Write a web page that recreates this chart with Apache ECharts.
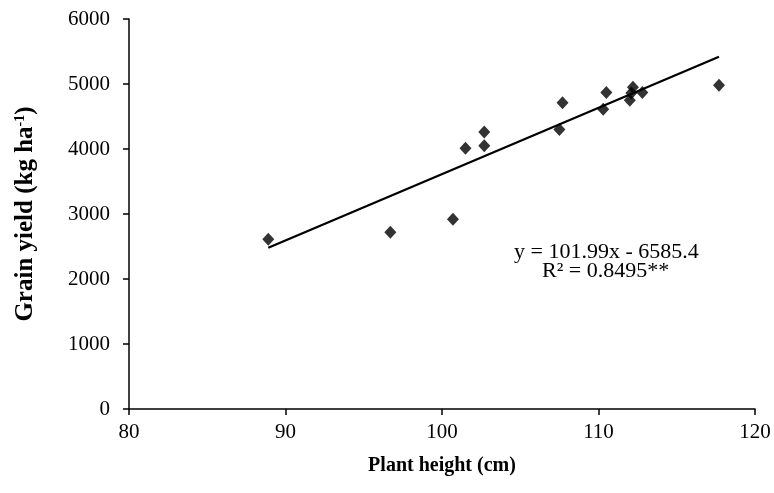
<!DOCTYPE html>
<html>
<head>
<meta charset="utf-8">
<script src="https://cdn.jsdelivr.net/npm/echarts@6/dist/echarts.min.js"></script>
<style>html,body{margin:0;padding:0;background:#fff;}#c{width:774px;height:493px;}</style>
</head>
<body>
<div id="c"></div>
<script>
// Data
const plantHeight = [88.9, 96.7, 100.7, 101.5, 102.7, 102.7, 107.5, 107.7, 110.3, 110.5, 112.0, 112.2, 112.1, 112.8, 117.7];
const grainYield  = [2610, 2720, 2920, 4010, 4260, 4050, 4300, 4710, 4610, 4870, 4750, 4950, 4860, 4870, 4980];
const slope = 101.99;
const intercept = -6585.4;
const trendX = [88.9, 117.7];
const xTicks = [80, 90, 100, 110, 120];
const yTicks = [0, 1000, 2000, 3000, 4000, 5000, 6000];
const equationText = 'y = 101.99x - 6585.4';
const r2Text = 'R\u00B2 = 0.8495**';

const points = plantHeight.map((x, i) => [x, grainYield[i]]);
const trend = trendX.map(x => [x, slope * x + intercept]);

const serif = '"Liberation Serif", "DejaVu Serif", serif';
const chart = echarts.init(document.getElementById('c'), null, {renderer: 'canvas'});
chart.setOption({
  animation: false,
  backgroundColor: '#fff',
  grid: {left: 129, right: 19, top: 19, bottom: 84},
  xAxis: {
    type: 'value', min: xTicks[0], max: xTicks[xTicks.length - 1], interval: 10,
    name: 'Plant height (cm)', nameLocation: 'middle', nameGap: 47,
    nameTextStyle: {fontFamily: serif, fontWeight: 'bold', fontSize: 20, color: '#000'},
    axisLine: {lineStyle: {color: '#000', width: 1.5}},
    axisTick: {show: true, length: 6, lineStyle: {color: '#000', width: 1.5}},
    axisLabel: {fontFamily: serif, fontSize: 21, color: '#000', margin: 13, formatter: v => String(v)},
    splitLine: {show: false}
  },
  yAxis: {
    type: 'value', min: yTicks[0], max: yTicks[yTicks.length - 1], interval: 1000,
    name: '{n|Grain yield (kg ha}{s|-1}{n|)}', nameLocation: 'middle', nameGap: 91, nameRotate: 90,
    nameTextStyle: {
      fontFamily: serif, fontWeight: 'bold', fontSize: 25, color: '#000',
      rich: {
        n: {fontFamily: serif, fontWeight: 'bold', fontSize: 25, color: '#000'},
        s: {fontFamily: serif, fontWeight: 'bold', fontSize: 14, color: '#000', verticalAlign: 'top', padding: [0, 0, 10, 0]}
      }
    },
    axisLine: {show: true, lineStyle: {color: '#000', width: 1.5}},
    axisTick: {show: true, length: 6, lineStyle: {color: '#000', width: 1.5}},
    axisLabel: {fontFamily: serif, fontSize: 21, color: '#000', margin: 19, formatter: v => String(v)},
    splitLine: {show: false}
  },
  series: [
    {
      type: 'line', data: trend, showSymbol: false, symbol: 'none',
      lineStyle: {color: '#000', width: 2.3}, z: 2, silent: true
    },
    {
      type: 'scatter', data: points, symbol: 'diamond', symbolSize: [12, 13],
      itemStyle: {color: '#000'}, z: 3
    }
  ],
  graphic: [
    {type: 'text', left: 514, top: 241, style: {text: equationText, font: '22px ' + serif, fill: '#000'}},
    {type: 'text', left: 542, top: 260, style: {text: r2Text, font: '22px ' + serif, fill: '#000'}}
  ]
});
</script>
</body>
</html>
